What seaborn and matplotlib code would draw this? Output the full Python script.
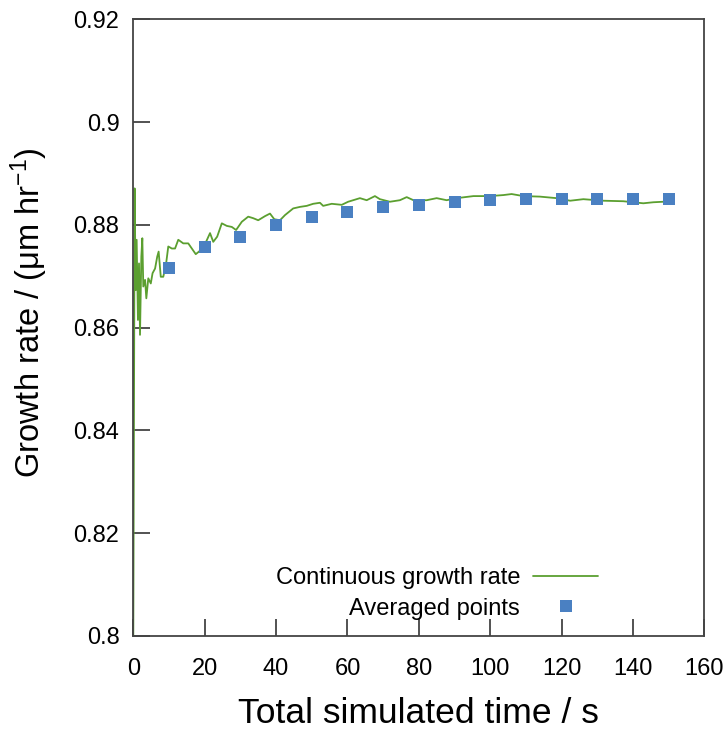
import matplotlib
matplotlib.use("Agg")
import matplotlib.pyplot as plt
import seaborn as sns
import pandas as pd
from matplotlib.lines import Line2D

# Continuous growth rate
line_x = [0.0, 0.38, 0.66, 0.94, 1.3, 1.6, 1.88, 2.25, 2.53, 2.8, 3.3, 3.65,
          4.2, 4.9, 5.4, 6.1, 6.7, 7.1, 7.7, 8.4, 9.2, 9.8, 10.8, 11.7, 12.6,
          14.0, 15.4, 16.4, 17.5, 18.4, 19.8, 21.5, 22.4, 23.5, 24.8, 26.2,
          27.6, 28.8, 30.4, 32.2, 33.6, 35.0, 36.9, 38.3, 39.5, 41.1, 42.5,
          44.8, 46.7, 48.6, 50.4, 52.3, 53.2, 55.6, 58.4, 60.2, 63.5, 65.4,
          67.7, 69.1, 71.9, 74.7, 76.6, 78.5, 82.2, 85.0, 87.8, 90.6, 95.3,
          99.9, 103.7, 106.0, 109.3, 113.9, 118.6, 122.4, 126.1, 131.7, 137.3,
          142.9, 145.7, 148.5, 150.0]
line_y = [0.800, 0.8871, 0.8673, 0.8771, 0.8615, 0.8725, 0.8586, 0.8738, 0.8774,
          0.8680, 0.8693, 0.8657, 0.8696, 0.8686, 0.8706, 0.8715, 0.8738, 0.8748,
          0.8699, 0.8699, 0.8725, 0.8758, 0.8754, 0.8754, 0.8771, 0.8764, 0.8764,
          0.8754, 0.8743, 0.8748, 0.8758, 0.8784, 0.8767, 0.8777, 0.8803, 0.8798,
          0.8796, 0.8790, 0.8806, 0.8816, 0.8813, 0.8809, 0.8817, 0.8822, 0.8811,
          0.8809, 0.8819, 0.8832, 0.8835, 0.8837, 0.8841, 0.8843, 0.8837, 0.8841,
          0.8839, 0.8845, 0.8852, 0.8848, 0.8856, 0.8850, 0.8845, 0.8848, 0.8854,
          0.8848, 0.8848, 0.8852, 0.8848, 0.8852, 0.8856, 0.8856, 0.8858, 0.8860,
          0.8856, 0.8855, 0.8852, 0.8847, 0.8850, 0.8847, 0.8846, 0.8842, 0.8844,
          0.8845, 0.8845]

# Averaged points
avg_x = [10, 20, 30, 40, 50, 60, 70, 80, 90, 100, 110, 120, 130, 140, 150]
avg_y = [0.8716, 0.8757, 0.8776, 0.8800, 0.8815, 0.8825, 0.8835, 0.8839, 0.8845,
         0.8848, 0.8850, 0.8850, 0.8850, 0.8850, 0.8850]

x_ticks = [0, 20, 40, 60, 80, 100, 120, 140, 160]
y_ticks = [0.8, 0.82, 0.84, 0.86, 0.88, 0.9, 0.92]
y_tick_labels = ["0.8", "0.82", "0.84", "0.86", "0.88", "0.9", "0.92"]

line_label = "Continuous growth rate"
avg_label = "Averaged points"

sns.set_style("ticks")
plt.rcParams["font.family"] = ["Liberation Sans", "DejaVu Sans"]
plt.rcParams["mathtext.default"] = "regular"
plt.rcParams["text.color"] = "black"
plt.rcParams["axes.labelcolor"] = "black"
plt.rcParams["xtick.labelcolor"] = "black"
plt.rcParams["ytick.labelcolor"] = "black"

green = "#5b9f30"
blue = "#4a80c2"
spine_col = "#444444"

fig = plt.figure(figsize=(7.28, 7.29), dpi=100)
ax = fig.add_axes([0.1831, 0.1276, 0.9675 - 0.1831, 0.9735 - 0.1276])

df_line = pd.DataFrame({"t": line_x, "g": line_y})
df_avg = pd.DataFrame({"t": avg_x, "g": avg_y})

sns.lineplot(data=df_line, x="t", y="g", ax=ax, color=green, linewidth=1.3,
             estimator=None, sort=False, legend=False)
sns.scatterplot(data=df_avg, x="t", y="g", ax=ax, color=blue, marker="s",
                s=85, linewidth=0, legend=False, zorder=3)

ax.set_xlim(0, 160)
ax.set_ylim(0.8, 0.92)
ax.set_xticks(x_ticks)
ax.set_yticks(y_ticks)
ax.set_yticklabels(y_tick_labels)
ax.tick_params(axis="both", direction="in", length=12, width=1.3,
               color=spine_col, labelsize=17)
ax.tick_params(axis="x", pad=16)
ax.tick_params(axis="y", pad=10)
for s in ax.spines.values():
    s.set_color(spine_col)
    s.set_linewidth(1.3)

ax.set_xlabel("Total simulated time / s", fontsize=25.5, labelpad=12)
ax.set_ylabel("Growth rate / (μm hr$^{-1}$)", fontsize=23.5)
ax.yaxis.set_label_coords(-0.146, 0.524)

handles = [Line2D([], [], color=green, linewidth=1.3),
           Line2D([], [], color=blue, marker="s", linestyle="none",
                  markersize=8, markeredgewidth=0)]
ax.legend(handles, [line_label, avg_label], loc="lower right",
          bbox_to_anchor=(0.814, 0.0265), frameon=False, markerfirst=False,
          fontsize=17, handlelength=2.75, handletextpad=0.55, labelspacing=0.37,
          borderpad=0, borderaxespad=0)

fig.savefig("out.png", dpi=100)
